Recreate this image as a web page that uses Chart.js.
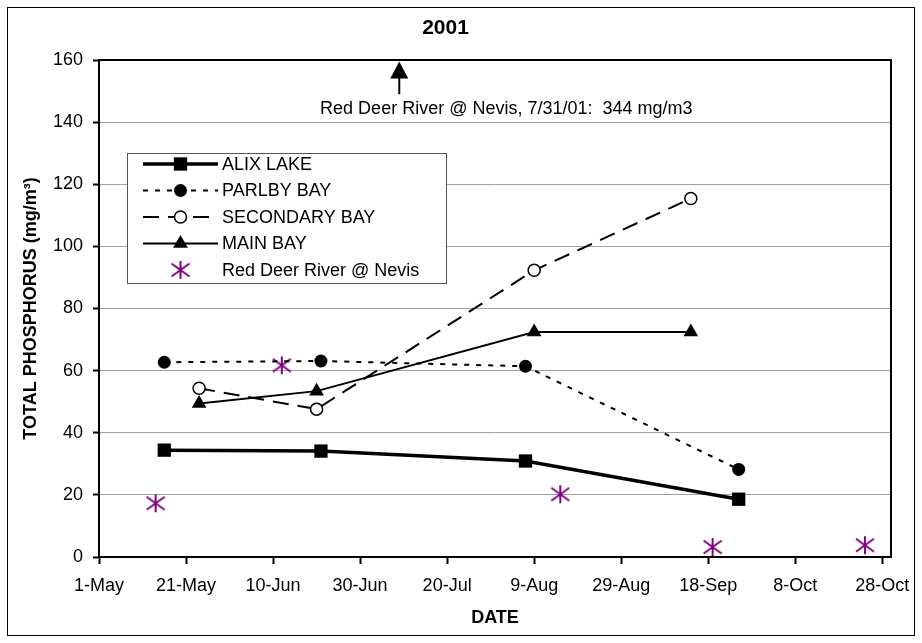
<!DOCTYPE html>
<html><head><meta charset="utf-8">
<style>html,body{margin:0;padding:0;background:#fff;}#wrap{width:922px;height:643px;}</style>
<script src="https://cdn.jsdelivr.net/npm/chart.js@4.4.1/dist/chart.umd.min.js"></script>
</head><body><div id="wrap"><canvas id="c" width="922" height="643"></canvas></div>
<script>
// ---------- data ----------
const START = '2001-05-01';
const xTickDates = ['2001-05-01','2001-05-21','2001-06-10','2001-06-30','2001-07-20','2001-08-09','2001-08-29','2001-09-18','2001-10-08','2001-10-28'];
const xTickLabels = ['1-May','21-May','10-Jun','30-Jun','20-Jul','9-Aug','29-Aug','18-Sep','8-Oct','28-Oct'];
const yTickStep = 20;

const seriesNames = ['ALIX LAKE','PARLBY BAY','SECONDARY BAY','MAIN BAY','Red Deer River @ Nevis'];
const alixDates = ['2001-05-16','2001-06-21','2001-08-07','2001-09-25'];
const alixTP = [34.4, 34.1, 30.9, 18.6];
const parlbyDates = ['2001-05-16','2001-06-21','2001-08-07','2001-09-25'];
const parlbyTP = [62.7, 63.1, 61.4, 28.2];
const secondaryDates = ['2001-05-24','2001-06-20','2001-08-09','2001-09-14'];
const secondaryTP = [54.3, 47.6, 92.3, 115.4];
const mainDates = ['2001-05-24','2001-06-20','2001-08-09','2001-09-14'];
const mainTP = [49.4, 53.4, 72.4, 72.4];
const riverDates = ['2001-05-14','2001-06-12','2001-08-15','2001-09-19','2001-10-24'];
const riverTP = [17.3, 61.7, 20.2, 3.2, 3.8];

const noteText = 'Red Deer River @ Nevis, 7/31/01:  344 mg/m3';

// ---------- helpers ----------
const FONT = "'Liberation Sans', Arial, Helvetica, sans-serif";
function dayOf(s){
  const a = s.split('-').map(Number), b = START.split('-').map(Number);
  return (Date.UTC(a[0],a[1]-1,a[2]) - Date.UTC(b[0],b[1]-1,b[2]))/86400000;
}
function pts(dates, vals){ return dates.map((d,i)=>({x:dayOf(d), y:vals[i]})); }
const xTickValues = xTickDates.map(dayOf);

function makeStar(color){
  const c = document.createElement('canvas');
  c.width = 20; c.height = 20;
  const g = c.getContext('2d');
  g.strokeStyle = color; g.lineWidth = 2; g.lineCap = 'butt';
  g.beginPath();
  g.moveTo(10,1); g.lineTo(10,19);
  g.moveTo(1,3.5); g.lineTo(19,16.5);
  g.moveTo(1,16.5); g.lineTo(19,3.5);
  g.stroke();
  return c;
}
const starImg = makeStar('#800080');

const datasets = [
  {label:seriesNames[0], data:pts(alixDates,alixTP), borderColor:'#000', borderWidth:3.5,
   pointStyle:'rect', pointRadius:9.4, pointBackgroundColor:'#000', pointBorderColor:'#000', pointBorderWidth:0},
  {label:seriesNames[1], data:pts(parlbyDates,parlbyTP), borderColor:'#000', borderWidth:2, borderDash:[5,7],
   pointStyle:'circle', pointRadius:6.5, pointBackgroundColor:'#000', pointBorderColor:'#000', pointBorderWidth:0},
  {label:seriesNames[2], data:pts(secondaryDates,secondaryTP), borderColor:'#000', borderWidth:2, borderDash:[16,9],
   pointStyle:'circle', pointRadius:6, pointBackgroundColor:'#fff', pointBorderColor:'#000', pointBorderWidth:1.5},
  {label:seriesNames[3], data:pts(mainDates,mainTP), borderColor:'#000', borderWidth:2,
   pointStyle:'triangle', pointRadius:8.5, pointBackgroundColor:'#000', pointBorderColor:'#000', pointBorderWidth:0},
  {label:seriesNames[4], data:pts(riverDates,riverTP), showLine:false, borderColor:'#800080',
   pointStyle:starImg, pointRadius:9, pointBackgroundColor:'#800080', pointBorderColor:'#800080'}
];
datasets.forEach(d=>{ d.tension=0; d.fill=false; d.clip=false; d.pointHoverRadius=d.pointRadius; });

// ---------- plugins ----------
const frame = {
  id:'frame',
  beforeDatasetsDraw(chart){
    const {ctx, chartArea:a} = chart;
    ctx.save(); ctx.strokeStyle='#000'; ctx.lineWidth=2;
    ctx.strokeRect(a.left, a.top, a.right-a.left, a.bottom-a.top);
    ctx.restore();
  },
  afterDraw(chart){
    const ctx = chart.ctx;
    ctx.save(); ctx.strokeStyle='#000'; ctx.lineWidth=1;
    ctx.strokeRect(7.5, 7.5, chart.width-15, chart.height-15);
    ctx.restore();
  }
};

const note = {
  id:'note',
  afterDatasetsDraw(chart){
    const {ctx, scales:{x,y}} = chart;
    const ax = x.getPixelForValue(69), tip = y.getPixelForValue(159.5), base = y.getPixelForValue(149);
    ctx.save();
    ctx.fillStyle='#000'; ctx.strokeStyle='#000'; ctx.lineWidth=2;
    ctx.beginPath(); ctx.moveTo(ax, tip); ctx.lineTo(ax-9, tip+17); ctx.lineTo(ax+9, tip+17); ctx.closePath(); ctx.fill();
    ctx.beginPath(); ctx.moveTo(ax, tip+16); ctx.lineTo(ax, base); ctx.stroke();
    ctx.font = '18px ' + FONT; ctx.textAlign='center'; ctx.textBaseline='middle';
    ctx.fillText(noteText, x.getPixelForValue(93.6), y.getPixelForValue(144.3));
    ctx.restore();
  }
};

const legendBox = {
  id:'legendBox',
  afterDatasetsDraw(chart){
    const ctx = chart.ctx;
    const L=127.5, T=153.5, W=319, H=130;
    ctx.save();
    ctx.fillStyle='#fff'; ctx.fillRect(L,T,W,H);
    ctx.strokeStyle='#555'; ctx.lineWidth=1; ctx.strokeRect(L,T,W,H);
    chart.data.datasets.forEach((ds,i)=>{
      const yy = 164 + i*26.5;
      if (ds.showLine !== false){
        ctx.save();
        ctx.strokeStyle = ds.borderColor; ctx.lineWidth = ds.borderWidth;
        ctx.setLineDash(ds.borderDash || []);
        ctx.beginPath(); ctx.moveTo(143, yy); ctx.lineTo(218, yy); ctx.stroke();
        ctx.restore();
      }
      ctx.save();
      ctx.fillStyle = ds.pointBackgroundColor; ctx.strokeStyle = ds.pointBorderColor;
      ctx.lineWidth = ds.pointBorderWidth || 0;
      Chart.helpers.drawPoint(ctx, {pointStyle:ds.pointStyle, radius:ds.pointRadius, rotation:0, borderWidth:ds.pointBorderWidth||0}, 180.5, yy);
      ctx.restore();
      ctx.fillStyle='#000'; ctx.font='18px '+FONT; ctx.textAlign='left'; ctx.textBaseline='middle';
      ctx.fillText(ds.label, 222, yy+1);
    });
    ctx.restore();
  }
};

// ---------- chart ----------
new Chart(document.getElementById('c'), {
  type:'line',
  data:{datasets},
  options:{
    responsive:false, animation:false, devicePixelRatio:1,
    layout:{padding:{left:0,right:31,top:0,bottom:0}},
    plugins:{
      legend:{display:false}, tooltip:{enabled:false},
      title:{display:true, text:'2001', color:'#000', font:{family:FONT,size:21,weight:'bold'}, padding:{top:16,bottom:18.8}}
    },
    scales:{
      x:{type:'linear', min:0, max:182,
        afterFit(s){ s.height = 86; },
        afterBuildTicks(s){ s.ticks = xTickValues.map(v=>({value:v})); },
        ticks:{callback:(v,i)=>xTickLabels[i], color:'#000', font:{family:FONT,size:18}, padding:11, maxRotation:0, autoSkip:false},
        grid:{drawOnChartArea:false, drawTicks:true, tickLength:7, tickColor:'#000', tickWidth:2},
        border:{color:'#000', width:2},
        title:{display:true, text:'DATE', color:'#000', font:{family:FONT,size:18,weight:'bold'}, padding:{top:0,bottom:14}}
      },
      y:{min:0, max:160,
        afterFit(s){ s.width = 99; },
        ticks:{stepSize:yTickStep, color:'#000', font:{family:FONT,size:18}, padding:10},
        grid:{color:'#a0a0a0', lineWidth:1, tickLength:6, tickColor:'#000', tickWidth:2},
        border:{color:'#000', width:2},
        title:{display:true, text:'TOTAL PHOSPHORUS (mg/m³)', color:'#000', font:{family:FONT,size:18,weight:'bold'}, padding:{top:20,bottom:0}}
      }
    }
  },
  plugins:[frame, note, legendBox]
});
</script>
</body></html>
